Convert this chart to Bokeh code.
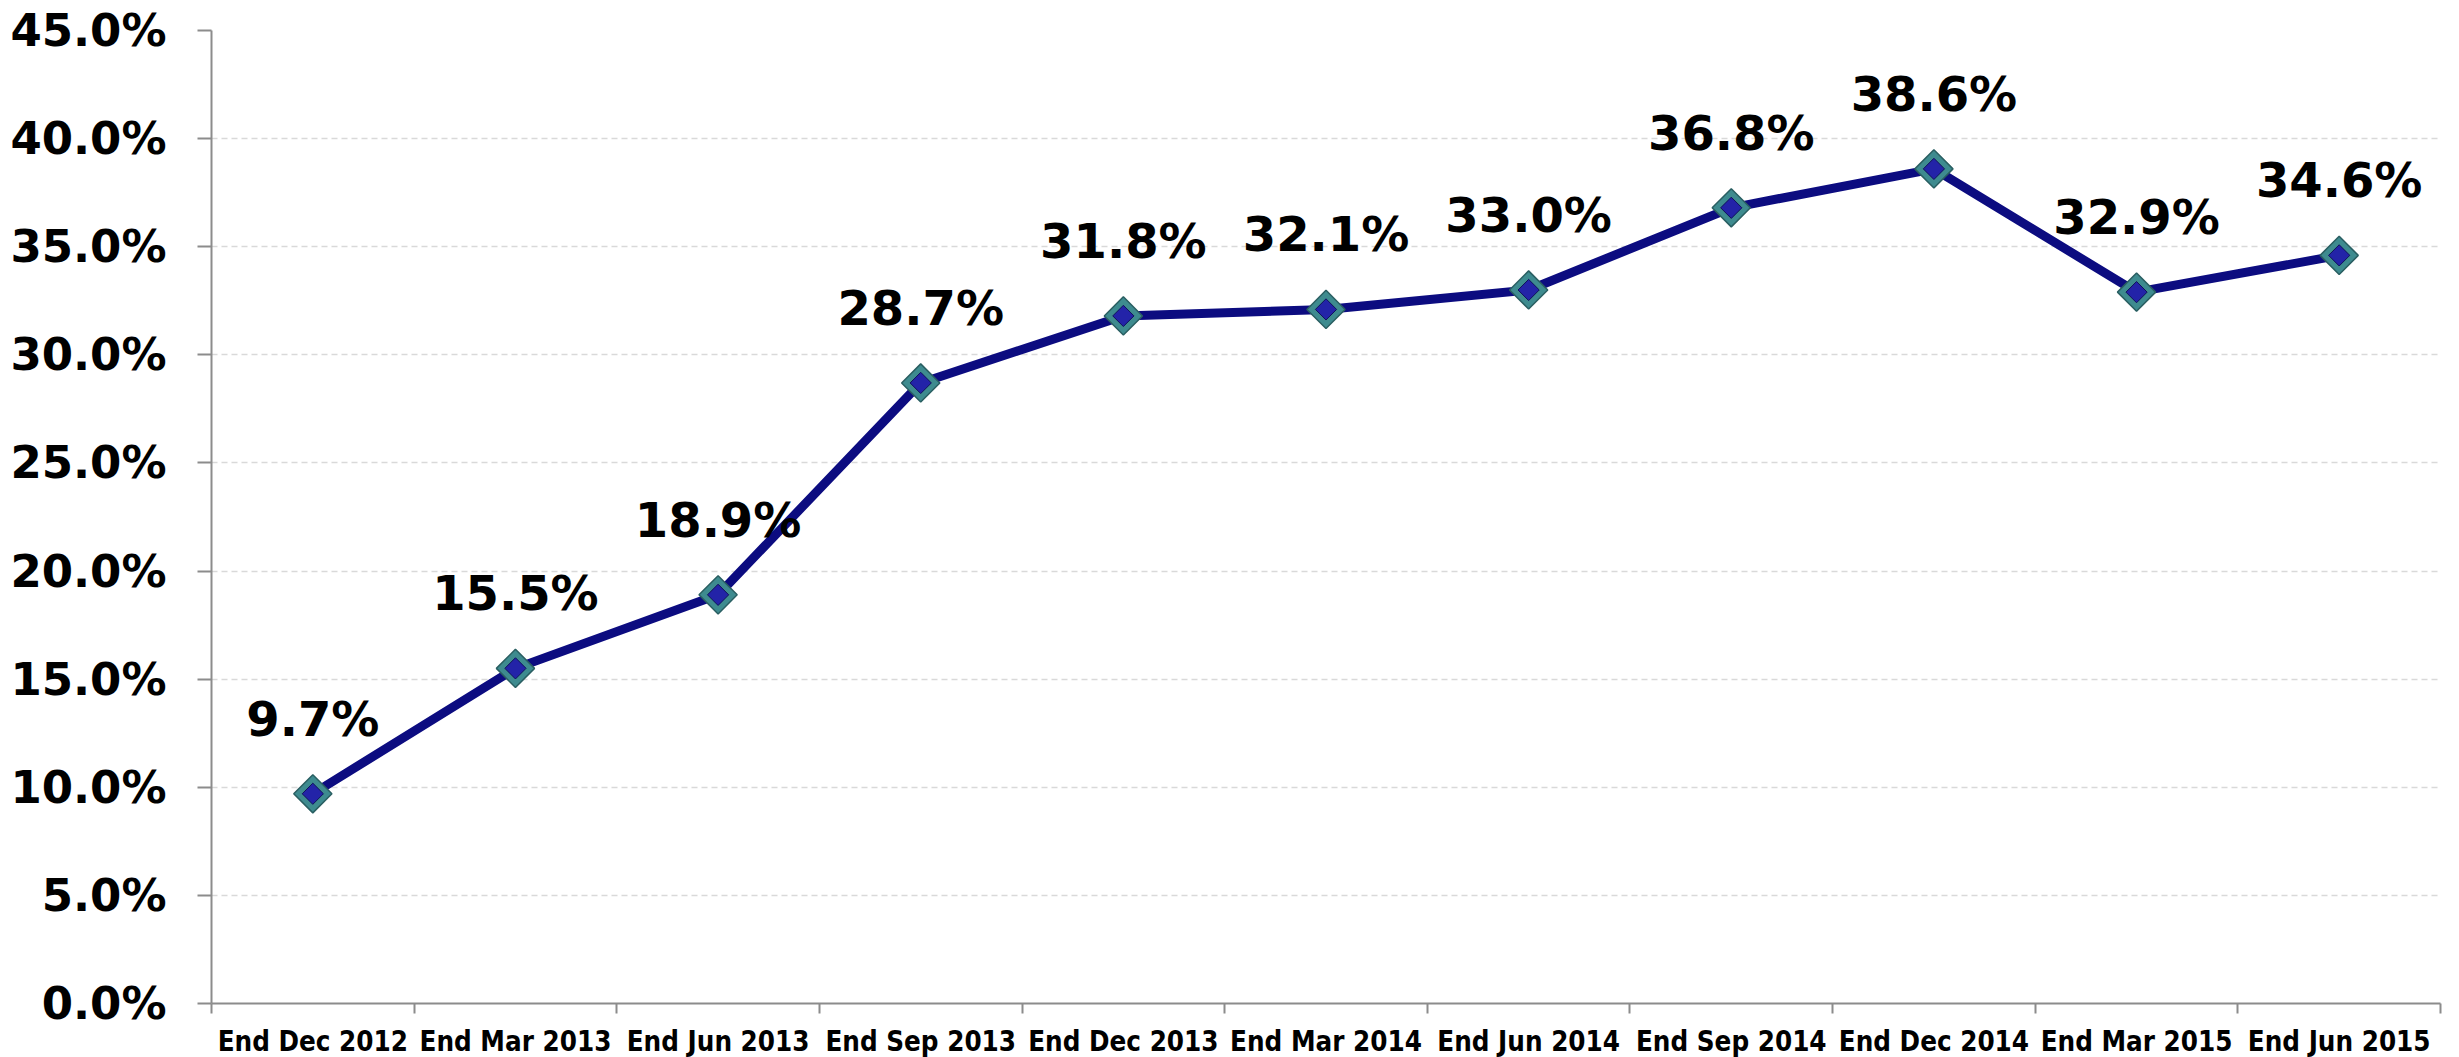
import numpy as np
from bokeh.plotting import figure
from bokeh.models import FixedTicker, NumeralTickFormatter, ColumnDataSource, Range1d
from bokeh.core.properties import value
from bokeh.embed import file_html
from bokeh.resources import INLINE

categories = ["End Dec 2012", "End Mar 2013", "End Jun 2013", "End Sep 2013", "End Dec 2013",
              "End Mar 2014", "End Jun 2014", "End Sep 2014", "End Dec 2014", "End Mar 2015",
              "End Jun 2015"]
values = [9.7, 15.5, 18.9, 28.7, 31.8, 32.1, 33.0, 36.8, 38.6, 32.9, 34.6]
y_ticks = [0.0, 0.05, 0.10, 0.15, 0.20, 0.25, 0.30, 0.35, 0.40, 0.45]

n = len(categories)
xs = [i + 0.5 for i in range(n)]
ys = [v / 100.0 for v in values]
labels = ["%.1f%%" % v for v in values]
src = ColumnDataSource(dict(x=xs, y=ys, label=labels))

FONT = "DejaVu Sans"

p = figure(frame_width=2229, frame_height=973, output_backend="svg", toolbar_location=None,
           x_range=Range1d(0, n), y_range=Range1d(0, 0.45),
           min_border_left=211, min_border_top=30, min_border_right=10, min_border_bottom=0)
p.outline_line_color = None
p.background_fill_color = "white"

# axes
p.xaxis.ticker = FixedTicker(ticks=xs, minor_ticks=list(range(n + 1)))
p.xaxis.major_label_overrides = {x: c for x, c in zip(xs, categories)}
p.xaxis.major_tick_out = 0
p.xaxis.major_tick_in = 0
p.xaxis.minor_tick_out = 10
p.xaxis.minor_tick_in = 0
p.xaxis.minor_tick_line_color = "#8c8c8c"
p.xaxis.minor_tick_line_width = 2
p.xaxis.axis_line_color = "#8c8c8c"
p.xaxis.axis_line_width = 2
p.xaxis.major_label_text_font = "DejaVu Sans Condensed"
p.xaxis.major_label_text_font_style = "bold"
p.xaxis.major_label_text_font_size = "27.5px"
p.xaxis.major_label_text_color = "black"
p.xaxis.major_label_standoff = 11

p.yaxis.ticker = FixedTicker(ticks=y_ticks, minor_ticks=[])
p.yaxis.formatter = NumeralTickFormatter(format="0.0%")
p.yaxis.major_tick_out = 14
p.yaxis.major_tick_in = 0
p.yaxis.major_tick_line_color = "#8c8c8c"
p.yaxis.major_tick_line_width = 2
p.yaxis.axis_line_color = "#8c8c8c"
p.yaxis.axis_line_width = 2
p.yaxis.major_label_text_font = FONT
p.yaxis.major_label_text_font_style = "bold"
p.yaxis.major_label_text_font_size = "45px"
p.yaxis.major_label_text_color = "black"
p.yaxis.major_label_standoff = 31

p.xgrid.grid_line_color = None
p.ygrid.ticker = FixedTicker(ticks=y_ticks[1:])
p.ygrid.grid_line_color = "#d9d9d9"
p.ygrid.grid_line_dash = "6 4"
p.ygrid.grid_line_width = 1.5

# series
p.line("x", "y", source=src, line_color="#0c0c80", line_width=9)
p.scatter("x", "y", source=src, marker="square", angle=np.pi / 4, size=27,
          fill_color="#3e8b8f", line_color="#2a5f62", line_width=1.5)
p.scatter("x", "y", source=src, marker="square", angle=np.pi / 4, size=15,
          fill_color="#2323a8", line_color="#10105a", line_width=1)

p.text("x", "y", text="label", source=src, text_align="center", text_baseline="middle",
       y_offset=-75, text_font=value(FONT), text_font_style="bold",
       text_font_size="48px", text_color="black")

open("out.html", "w").write(file_html(p, INLINE))
